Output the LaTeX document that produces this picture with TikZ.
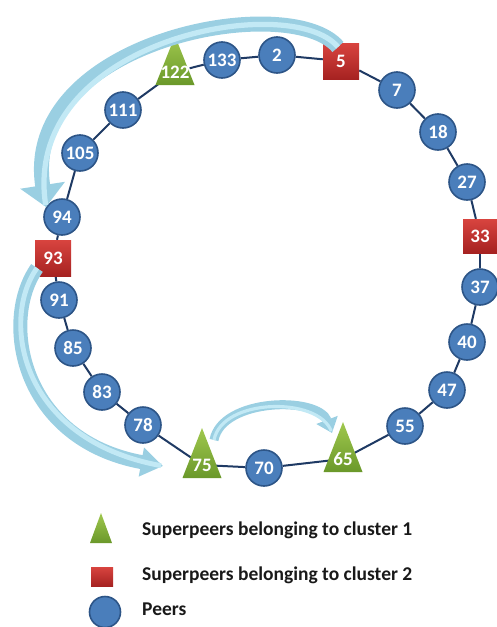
\documentclass[tikz,border=0pt]{standalone}
\usepackage{fontspec}
\setmainfont{Carlito}
\usetikzlibrary{arrows.meta}
\definecolor{ringc}{HTML}{1F3A64}
\definecolor{peerfill}{HTML}{4A7EBB}
\definecolor{peerdraw}{HTML}{2D5587}
\definecolor{sqtop}{HTML}{D8443F}
\definecolor{sqbot}{HTML}{A62221}
\definecolor{tritop}{HTML}{A0C84E}
\definecolor{tribot}{HTML}{6A982A}
\definecolor{arrowc}{HTML}{9ACFE2}
\definecolor{arrowlight}{HTML}{C2E9F5}
\pgfdeclarelayer{bg}
\pgfsetlayers{bg,main}
\tikzset{
  lab/.style={font=\bfseries\fontsize{19}{19}\selectfont, text=white, inner sep=0pt},
  peer/.style={circle, lab, minimum size=36pt, fill=peerfill, draw=peerdraw, line width=1.6pt},
  sqnode/.style={rectangle, lab, minimum size=#1, top color=sqtop, bottom color=sqbot, draw=none},
  trishape/.style={top color=tritop, bottom color=tribot},
  ring/.style={draw=ringc, line width=2pt},
  bigarrow/.style n args={3}{draw=arrowc, line width=#1, -{Triangle[width=#2,length=#3]},
     postaction={draw=arrowlight, line width=0.35*#1, -, shorten >=2pt}},
  legtext/.style={anchor=west, font=\bfseries\fontsize{19.5}{19.5}\selectfont, text=black!90, inner sep=0pt}
}
\newcommand\mytri[5]{%
  \shade[trishape] (#2,#3) -- ({#2+19.5},#4) -- ({#2-19.5},#4) -- cycle;
  \node[lab] (#1) at (#2,{#4-13}) {#5};}
\begin{document}
\begin{tikzpicture}[x=1pt,y=-1pt]
\useasboundingbox (0,0) rectangle (496,627);
% ring nodes
\mytri{n122}{175}{36}{85}{122}
\node[peer] (n133) at (222,60) {133};
\node[peer] (n2) at (277,55) {2};
\node[sqnode=36pt] (n5) at (341,61) {5};
\node[peer] (n7) at (397,90) {7};
\node[peer] (n18) at (438,132) {18};
\node[peer] (n27) at (467,182) {27};
\node[sqnode=34pt] (n33) at (480,236) {33};
\node[peer] (n37) at (480,287) {37};
\node[peer] (n40) at (467,342) {40};
\node[peer] (n47) at (447,390) {47};
\node[peer] (n55) at (405,426) {55};
\mytri{n65}{343}{422}{472}{65}
\node[peer] (n70) at (264,468) {70};
\mytri{n75}{202}{428}{478}{75}
\node[peer] (n78) at (143,425) {78};
\node[peer] (n83) at (102,392) {83};
\node[peer] (n85) at (73,348) {85};
\node[peer] (n91) at (59,300) {91};
\node[sqnode=36pt] (n93) at (53,258) {93};
\node[peer] (n94) at (62,217) {94};
\node[peer] (n105) at (80,153) {105};
\node[peer] (n111) at (123,110) {111};
% ring connectors
\begin{pgfonlayer}{bg}
\foreach \a/\b in {n2/n5,n5/n7,n7/n18,n18/n27,n27/n33,n33/n37,n37/n40,n40/n47,n47/n55,n55/n65,n65/n70,n70/n75,n75/n78,n78/n83,n83/n85,n85/n91,n91/n93,n93/n94,n94/n105,n105/n111,n111/n122,n122/n133,n133/n2}
  \draw[ring] (\a) -- (\b);
\end{pgfonlayer}
% big curved arrows
\coordinate (a1s) at (338,47);
\coordinate (a1e) at (46,207);
\draw[bigarrow={15pt}{44pt}{22pt}] (a1s) .. controls (290,-10) and (20,40) .. (a1e);
\coordinate (a2s) at (37,268);
\coordinate (a2e) at (163,466);
\draw[bigarrow={14pt}{28pt}{22pt}] (a2s) .. controls (0,320) and (20,440) .. (a2e);
\coordinate (a3s) at (214,440);
\coordinate (a3e) at (332,433);
\draw[bigarrow={9pt}{22pt}{14pt}] (a3s) .. controls (222,398) and (318,396) .. (a3e);
% legend
\shade[trishape] (101,513) -- (112,543) -- (90,543) -- cycle;
\node[legtext] (l1) at (142,530) {Superpeers belonging to cluster 1};
\shade[top color=sqtop, bottom color=sqbot] (91,567) rectangle (113,586);
\node[legtext] (l2) at (142,575) {Superpeers belonging to cluster 2};
\node[circle, minimum size=31pt, inner sep=0pt, fill=peerfill, draw=peerdraw, line width=1.6pt] (l3c) at (105,612) {};
\node[legtext] (l3) at (142,609) {Peers};
\end{tikzpicture}
\end{document}
